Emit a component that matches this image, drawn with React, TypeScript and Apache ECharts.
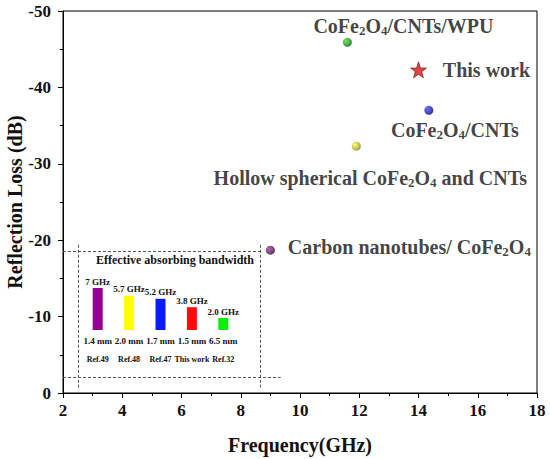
import React, { useEffect, useRef } from "react";
import * as echarts from "echarts";

// Main scatter data (frequency GHz, reflection loss dB)
const refNames = [
  "CoFe{s|2}O{s|4}/CNTs/WPU",
  "CoFe{s|2}O{s|4}/CNTs",
  "Hollow spherical CoFe{s|2}O{s|4} and CNTs",
  "Carbon nanotubes/ CoFe{s|2}O{s|4}",
];
const refFreq = [11.6, 14.35, 11.9, 9.0];
const refRL = [-45.9, -37.0, -32.3, -18.7];
const thisWorkName = "This work";
const thisWorkFreq = [14.0];
const thisWorkRL = [-42.3];

// Inset: effective absorbing bandwidth
const insetTitle = "Effective absorbing bandwidth";
const insetRefs = ["Ref.49", "Ref.48", "Ref.47", "This work", "Ref.32"];
const insetThickness = ["1.4 mm", "2.0 mm", "1.7 mm", "1.5 mm", "6.5 mm"];
const insetBandwidth = [7, 5.7, 5.2, 3.8, 2.0];
const insetBandwidthLabels = ["7 GHz", "5.7 GHz", "5.2 GHz", "3.8 GHz", "2.0 GHz"];

// Inset frame (data coordinates of the main chart)
const insetFrameX = [2.5, 8.65];
const insetFrameY = [-18.6, -2];
const insetFrameXExtent = [2, 8.75, 9.35];
const insetFrameYExtent = [-19.4, -0.7];

const xTicks = { min: 2, max: 18, interval: 2 };
const yTicks = { min: -50, max: 0, interval: 10 };

const FONT = "'Liberation Serif', 'Times New Roman', serif";

const sphere = (light: string, dark: string) => ({
  type: "radial",
  x: 0.35,
  y: 0.35,
  r: 0.75,
  colorStops: [
    { offset: 0, color: light },
    { offset: 1, color: dark },
  ],
});

const pointColors = [
  sphere("#50e040", "#005a00"),
  sphere("#4848ff", "#00006a"),
  sphere("#ffff60", "#7a7a00"),
  sphere("#a040a0", "#300030"),
];
const labelOffsets = [
  [56, -16],
  [26, 20],
  [14, 32],
  [139, -3],
];
const barColors = ["#930093", "#ffff00", "#0a1aff", "#ff0a0a", "#0aee0a"];

const STAR =
  "path://M50,0 L61.8,35.1 L97.6,34.5 L69.1,56.7 L79.4,90.5 L50,70 L20.6,90.5 L30.9,56.7 L2.4,34.5 L38.2,35.1 Z";

const richBase = {
  b: { fontFamily: FONT, fontWeight: "bold", fontSize: 20, color: "#111" },
  s: {
    fontFamily: FONT,
    fontWeight: "bold",
    fontSize: 13,
    color: "#111",
    padding: [9, 0, 0, 0],
  },
};

function wrapRich(t: string) {
  const parts = t.split(/(\{s\|[^}]*\})/);
  return parts.map((p) => (p.startsWith("{s|") ? p : p ? `{b|${p}}` : "")).join("");
}

export default function App() {
  const ref = useRef<HTMLDivElement>(null);
  useEffect(() => {
    document.body.style.margin = "0";
    const chart = echarts.init(ref.current!, undefined, { renderer: "svg" });
    const dash = { color: "#555", width: 1, type: [3, 2] as any };
    const frameLines = [
      [
        { coord: [insetFrameXExtent[0], insetFrameY[0]] },
        { coord: [insetFrameXExtent[1], insetFrameY[0]] },
      ],
      [
        { coord: [insetFrameXExtent[0], insetFrameY[1]] },
        { coord: [insetFrameXExtent[2], insetFrameY[1]] },
      ],
      [
        { coord: [insetFrameX[0], insetFrameYExtent[0]] },
        { coord: [insetFrameX[0], insetFrameYExtent[1]] },
      ],
      [
        { coord: [insetFrameX[1], insetFrameYExtent[0]] },
        { coord: [insetFrameX[1], insetFrameYExtent[1]] },
      ],
    ];
    chart.setOption({
      animation: false,
      backgroundColor: "#fff",
      grid: [
        {
          left: 63,
          right: 13,
          top: 11,
          bottom: 66,
          show: true,
          borderColor: "#000",
          borderWidth: 1,
          outerBoundsMode: "none",
          containLabel: false,
        },
        { left: 82, width: 157, top: 270, height: 60, outerBoundsMode: "none", containLabel: false },
      ],
      xAxis: [
        {
          type: "value",
          gridIndex: 0,
          min: xTicks.min,
          max: xTicks.max,
          interval: xTicks.interval,
          name: "Frequency(GHz)",
          nameLocation: "middle",
          nameGap: 42,
          nameMoveOverlap: false,
          nameTextStyle: { fontFamily: FONT, fontWeight: "bold", fontSize: 20, color: "#111" },
          axisLine: { lineStyle: { color: "#000", width: 1 } },
          axisTick: { inside: false, length: 5, lineStyle: { color: "#000" } },
          minorTick: { show: true, splitNumber: 2, length: 3, lineStyle: { color: "#000" } },
          splitLine: { show: false },
          axisLabel: { fontFamily: FONT, fontWeight: "bold", fontSize: 17, color: "#111", margin: 9 },
        },
        {
          type: "category",
          gridIndex: 1,
          data: insetRefs,
          axisLine: { show: false },
          axisTick: { show: false },
          axisLabel: {
            margin: 2,
            interval: 0,
            formatter: (v: string, i: number) => `{t|${insetThickness[i]}}\n{r|${v}}`,
            rich: {
              t: { fontFamily: FONT, fontWeight: "bold", fontSize: 9, color: "#111", lineHeight: 18 },
              r: { fontFamily: FONT, fontWeight: "bold", fontSize: 8, color: "#111", lineHeight: 18 },
            },
          },
        },
      ],
      yAxis: [
        {
          type: "value",
          gridIndex: 0,
          inverse: true,
          min: yTicks.min,
          max: yTicks.max,
          interval: yTicks.interval,
          name: "Reflection Loss (dB)",
          nameLocation: "middle",
          nameGap: 38,
          nameMoveOverlap: false,
          nameTextStyle: { fontFamily: FONT, fontWeight: "bold", fontSize: 20, color: "#111" },
          axisLine: { show: true, lineStyle: { color: "#000", width: 1 } },
          axisTick: { show: true, inside: false, length: 5, lineStyle: { color: "#000" } },
          minorTick: { show: true, splitNumber: 2, length: 3, lineStyle: { color: "#000" } },
          splitLine: { show: false },
          axisLabel: { fontFamily: FONT, fontWeight: "bold", fontSize: 17, color: "#111", margin: 12 },
        },
        {
          type: "value",
          gridIndex: 1,
          min: 0,
          max: 10,
          show: false,
        },
      ],
      series: [
        {
          type: "scatter",
          xAxisIndex: 0,
          yAxisIndex: 0,
          symbol: "circle",
          symbolSize: 9,
          data: refFreq.map((x, i) => ({
            value: [x, refRL[i]],
            itemStyle: { color: pointColors[i] },
            label: {
              show: true,
              position: "inside",
              offset: labelOffsets[i],
              formatter: wrapRich(refNames[i]),
              rich: richBase,
            },
          })),
          markLine: {
            silent: true,
            symbol: ["none", "none"],
            label: { show: false },
            lineStyle: dash,
            data: frameLines,
          },
        },
        {
          type: "scatter",
          xAxisIndex: 0,
          yAxisIndex: 0,
          symbol: STAR,
          symbolSize: 16,
          itemStyle: { color: "#d81818", borderColor: "#500", borderWidth: 0.7 },
          data: thisWorkFreq.map((x, i) => ({
            value: [x, thisWorkRL[i]],
            label: {
              show: true,
              position: "right",
              distance: 16,
              formatter: `{b|${thisWorkName}}`,
              rich: richBase,
            },
          })),
        },
        {
          type: "bar",
          xAxisIndex: 1,
          yAxisIndex: 1,
          barWidth: 10,
          data: insetBandwidth.map((v, i) => ({
            value: v,
            itemStyle: { color: barColors[i] },
          })),
          label: {
            show: true,
            position: "top",
            distance: 2,
            formatter: (p: any) => insetBandwidthLabels[p.dataIndex],
            fontFamily: FONT,
            fontWeight: "bold",
            fontSize: 9,
            color: "#111",
          },
        },
      ],
      graphic: [
        {
          type: "text",
          x: 175,
          y: 260,
          style: {
            text: insetTitle,
            fontFamily: FONT,
            fontWeight: "bold",
            fontSize: 12,
            fill: "#111",
            align: "center",
            verticalAlign: "middle",
          },
        },
      ],
    });
    return () => chart.dispose();
  }, []);
  return (
    <div
      ref={ref}
      style={{ position: "absolute", left: 0, top: 0, width: 550, height: 459 }}
    />
  );
}
